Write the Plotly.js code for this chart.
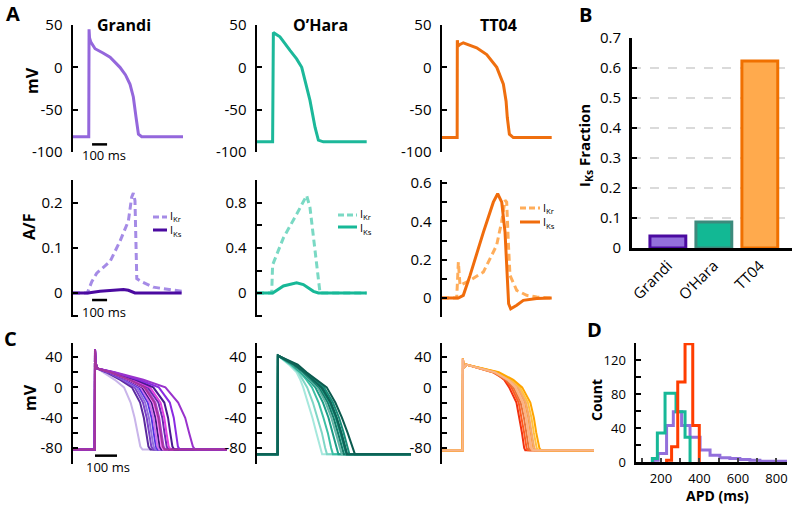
<!DOCTYPE html>
<html><head><meta charset="utf-8">
<script src="https://cdn.plot.ly/plotly-3.0.1.min.js"></script>
<style>html,body{margin:0;padding:0;background:#fff;}#plot{width:800px;height:508px;}</style>
</head><body><div id="plot"></div>
<script>
// ---------------- DATA ----------------
const models = ['Grandi', 'O\u2019Hara', 'TT04'];
const iksFraction = [0.04, 0.087, 0.623];

// Panel A top: action potentials (time ms, mV)
const apG_t = [0, 105, 107, 110, 118, 147, 200, 247, 313, 350, 380, 402, 420, 436, 458, 733];
const apG_v = [-82, -82, 45, 35, 30, 22, 17, 12, 0, -9, -20, -35, -59, -79, -82, -82];
const apO_t = [0, 104, 109, 153, 220, 264, 298, 320, 353, 387, 409, 442, 731];
const apO_v = [-88, -88, 41, 36, 20, 10, 0, -15, -39, -71, -86, -88, -88];
const apT_t = [0, 101, 102, 107, 120, 142, 231, 298, 365, 409, 427, 435, 449, 475, 731];
const apT_v = [-83, -83, 32, 25, 27, 29, 23, 15, 0, -20, -40, -59, -79, -83, -83];

// Panel A bottom: currents (A/F)
const ikrG_t = [0, 95, 125, 158, 247, 313, 369, 391, 402, 413, 425, 458, 535, 724];
const ikrG = [0, 0, 0.025, 0.044, 0.07, 0.115, 0.16, 0.213, 0.222, 0.205, 0.032, 0.025, 0.013, 0.004];
const iksG_t = [0, 100, 180, 269, 336, 369, 413, 724];
const iksG = [0, 0, 0.004, 0.006, 0.008, 0.006, 0, 0];
const ikrO_t = [0, 98, 104, 113, 176, 264, 331, 353, 420, 731];
const ikrO = [0, 0, 0.25, 0.28, 0.49, 0.70, 0.866, 0.76, 0, 0];
const iksO_t = [0, 105, 176, 264, 309, 376, 409, 731];
const iksO = [0, 0, 0.063, 0.09, 0.075, 0.015, 0, 0];
const ikrT_t = [0, 98, 109, 120, 187, 276, 364, 398, 420, 431, 442, 453, 498, 564, 631, 731];
const ikrT = [0, 0, 0.188, 0.066, 0.092, 0.136, 0.275, 0.40, 0.51, 0.50, 0.29, 0.118, 0.04, 0.014, 0.005, 0];
const iksT_t = [0, 109, 142, 187, 276, 342, 371, 398, 420, 436, 444, 458, 498, 542, 631, 731];
const iksT = [0, 0, 0.014, 0.118, 0.344, 0.50, 0.544, 0.50, 0.344, 0.118, -0.03, -0.056, -0.038, -0.012, -0.003, 0];

// Panel C: populations. Voltage levels shared, crossing times per trace.
const cG_v = [-82, -82, 50, 33, 25, 20, 10, 0, -20, -40, -60, -78, -82, -82];
const cG_head = [0, 99, 100, 102, 110];
const cG_end = 700;
const cG_times = [
  [135, 190, 232, 262, 280, 293, 306, 316],
  [150, 215, 268, 305, 322, 333, 343, 352],
  [155, 225, 280, 318, 335, 346, 356, 365],
  [160, 232, 290, 328, 345, 356, 366, 375],
  [160, 240, 300, 340, 357, 367, 377, 385],
  [165, 245, 308, 348, 365, 375, 384, 392],
  [165, 250, 315, 358, 375, 385, 394, 402],
  [170, 255, 322, 365, 383, 393, 402, 410],
  [170, 262, 330, 375, 392, 402, 412, 420],
  [175, 268, 340, 388, 406, 416, 426, 435],
  [178, 275, 350, 398, 415, 425, 435, 444],
  [180, 285, 365, 415, 432, 442, 452, 460],
  [185, 300, 390, 440, 458, 468, 477, 485],
  [190, 320, 420, 478, 510, 528, 545, 555],
  [170, 258, 325, 370, 388, 398, 408, 416]
];
const cO_v = [-88, -88, 42, 30, 20, 10, 0, -20, -40, -60, -80, -88, -88];
const cO_head = [0, 94, 95];
const cO_end = 700;
const cO_times = [
  [145, 180, 197, 210, 232, 252, 270, 287, 296],
  [150, 188, 210, 228, 254, 276, 295, 310, 318],
  [155, 195, 225, 250, 280, 302, 322, 337, 345],
  [160, 200, 235, 265, 300, 325, 345, 362, 370],
  [163, 205, 242, 275, 312, 338, 358, 376, 385],
  [165, 210, 248, 283, 322, 348, 368, 386, 395],
  [168, 213, 252, 290, 330, 357, 378, 396, 405],
  [172, 218, 258, 297, 336, 363, 384, 402, 410],
  [175, 220, 264, 305, 345, 373, 394, 412, 420],
  [185, 225, 271, 317, 356, 386, 412, 435, 445],
  [170, 215, 256, 293, 334, 361, 382, 400, 408]
];
const cT_v = [-83, -83, 38, 25, 30, 20, 10, 0, -20, -40, -60, -80, -83, -83];
const cT_head = [0, 94, 95, 98, 110];
const cT_end = 690;
const cT_times = [
  [240, 282, 305, 338, 352, 363, 373, 378],
  [230, 288, 315, 348, 362, 373, 384, 390],
  [232, 292, 324, 357, 372, 383, 394, 400],
  [238, 298, 332, 366, 381, 392, 403, 410],
  [242, 303, 339, 373, 388, 399, 411, 418],
  [246, 309, 346, 381, 396, 407, 419, 426],
  [252, 316, 354, 390, 406, 417, 430, 437],
  [258, 324, 364, 401, 417, 428, 442, 450],
  [240, 300, 336, 370, 385, 396, 408, 415]
];

// Panel D: APD histograms (bin edges in ms, counts)
const hG_edges = [160, 185, 229, 264, 307, 351, 403, 455, 506, 558, 610, 662, 714, 855];
const hG_counts = [2, 10, 43, 59, 43, 29, 14, 8, 5, 4, 3, 2, 1];
const hO_edges = [155, 181, 221, 278, 325, 351];
const hO_counts = [4, 34, 81, 59, 29];
const hT_edges = [229, 255, 287, 325, 365, 399];
const hT_counts = [2, 18, 94, 139, 43];

// ---------------- STYLE ----------------
const FONT = 'Open Sans, sans-serif';
const colG = '#9467dc', colO = '#1cb89a', colT = '#ef6f0f';
const colG_kr = '#a58be6', colG_ks = '#4b0aa0';
const colO_kr = '#7ad9c4', colO_ks = '#17b897';
const colT_kr = '#ffad5a', colT_ks = '#f06c0c';
const cG_cols = ['#c9b5ea','#5b2a9e','#7a3fc9','#9370db','#5030e0','#d070f0','#3d1580','#ff80ff','#b040d8','#6a2ab0','#e040e0','#4a1a90','#8a2be2','#9932cc','#a3369b'];
const cO_cols = ['#a6e8dd','#7fd6c6','#3cbfa4','#1c9c86','#62b5a6','#137a68','#28a58f','#0f6e5e','#178c78','#0b5a4e','#0e6357'];
const cT_cols = ['#f03010','#ff5a1f','#e8733a','#ffb07a','#ff8c00','#f5a76c','#ffc040','#ffa500','#f8b48a'];
const DASH = '7px,4px';

const W = 800, H = 508;
const PX = p => p / W, PY = p => 1 - p / H;

const layout = {
  width: W, height: H, margin: {l: 0, r: 0, t: 0, b: 0},
  paper_bgcolor: 'white', plot_bgcolor: 'rgba(0,0,0,0)', showlegend: false,
  font: {family: FONT, color: 'black', size: 15},
  annotations: [], shapes: []
};
function hidX(name, l, r, range, anchor) {
  layout[name] = {domain: [PX(l), PX(r)], range: range, anchor: anchor, visible: false, fixedrange: true};
}
function yAx(name, top, bot, range, tickvals, ticktext, anchor, size) {
  layout[name] = {domain: [PY(bot), PY(top)], range: range, anchor: anchor,
    showline: true, linecolor: 'black', linewidth: 2.5, ticks: 'inside', ticklen: 5, tickwidth: 2, tickcolor: 'black',
    tickmode: 'array', tickvals: tickvals, ticktext: ticktext, showgrid: false, zeroline: false,
    tickfont: {family: FONT, size: size || 15, color: 'black'}, ticklabelstandoff: 5, fixedrange: true};
}
// A top
const apTicks = [-100, -50, 0, 50], apText = ['-100', '-50', '0', '50'];
hidX('xaxis', 73, 183, [0, 733], 'y');  yAx('yaxis', 25, 152, [-100, 50], apTicks, apText, 'x');
hidX('xaxis2', 257, 367, [0, 733], 'y2'); yAx('yaxis2', 25, 152, [-100, 50], apTicks, apText, 'x2');
hidX('xaxis3', 442, 552, [0, 733], 'y3'); yAx('yaxis3', 25, 152, [-100, 50], apTicks, apText, 'x3');
// A bottom
hidX('xaxis4', 73, 183, [0, 733], 'y4');
yAx('yaxis4', 180, 317, [-0.0533, 0.2511], [-0.05, 0, 0.1, 0.2, 0.25], ['', '0', '0.1', '0.2', ''], 'x4');
hidX('xaxis5', 257, 367, [0, 733], 'y5');
yAx('yaxis5', 180, 317, [-0.213, 1.004], [-0.2, 0, 0.2, 0.4, 0.6, 0.8, 1.0], ['', '0', '', '0.4', '', '0.8', ''], 'x5');
hidX('xaxis6', 442, 552, [0, 733], 'y6');
yAx('yaxis6', 180, 317, [-0.099, 0.6157], [-0.1, 0, 0.1, 0.2, 0.3, 0.4, 0.5, 0.6], ['', '0', '', '0.2', '', '0.4', '', '0.6'], 'x6');
// B
layout.xaxis7 = {domain: [PX(632), PX(792)], range: [-0.78, 2.7], anchor: 'y7', type: 'category',
  showline: true, linecolor: 'black', linewidth: 3, ticks: '', tickangle: -45,
  tickfont: {family: FONT, size: 15, color: 'black'}, showgrid: false, zeroline: false, fixedrange: true};
yAx('yaxis7', 38, 248, [0, 0.7], [0, 0.1, 0.2, 0.3, 0.4, 0.5, 0.6, 0.7], ['0', '0.1', '0.2', '0.3', '0.4', '0.5', '0.6', '0.7'], 'x7', 15);
Object.assign(layout.yaxis7, {linewidth: 3, showgrid: true, gridcolor: '#dadada', gridwidth: 1.5, griddash: 'dash'});
// C
const cTicks = [-100, -80, -60, -40, -20, 0, 20, 40], cText = ['', '-80', '', '-40', '', '0', '', '40'];
hidX('xaxis8', 73, 227, [0, 700], 'y8');  yAx('yaxis8', 343, 464, [-101, 58.5], cTicks, cText, 'x8');
hidX('xaxis9', 257, 411, [0, 700], 'y9');  yAx('yaxis9', 343, 464, [-101, 58.5], cTicks, cText, 'x9');
hidX('xaxis10', 442, 594, [0, 690], 'y10'); yAx('yaxis10', 343, 464, [-101, 58.5], cTicks, cText, 'x10');
// D
layout.xaxis11 = {domain: [PX(636), PX(787)], range: [70, 855], anchor: 'y11',
  showline: true, linecolor: 'black', linewidth: 2.5, ticks: 'inside', ticklen: 4, tickwidth: 2,
  tickmode: 'array', tickvals: [100, 200, 300, 400, 500, 600, 700, 800], ticktext: ['', '200', '', '400', '', '600', '', '800'],
  tickfont: {family: FONT, size: 13, color: 'black'}, ticklabelstandoff: 3, showgrid: false, zeroline: false, fixedrange: true};
yAx('yaxis11', 343, 462, [0, 140], [0, 20, 40, 60, 80, 100, 120, 140], ['0', '', '40', '', '80', '', '120', ''], 'x11', 13);

// ---------------- TRACES ----------------
const traces = [];
function line(x, y, xa, ya, color, width, dash) {
  traces.push({type: 'scatter', mode: 'lines', x: x, y: y, xaxis: xa, yaxis: ya,
    line: {color: color, width: width, dash: dash || 'solid'}, hoverinfo: 'skip', cliponaxis: false});
}
line(apG_t, apG_v, 'x', 'y', colG, 3);
line(apO_t, apO_v, 'x2', 'y2', colO, 3);
line(apT_t, apT_v, 'x3', 'y3', colT, 3);

line(ikrG_t, ikrG, 'x4', 'y4', colG_kr, 3, DASH);
line(iksG_t, iksG, 'x4', 'y4', colG_ks, 3);
line(ikrO_t, ikrO, 'x5', 'y5', colO_kr, 3, DASH);
line(iksO_t, iksO, 'x5', 'y5', colO_ks, 3);
line(ikrT_t, ikrT, 'x6', 'y6', colT_kr, 3, DASH);
line(iksT_t, iksT, 'x6', 'y6', colT_ks, 3);

traces.push({type: 'bar', x: models, y: iksFraction, xaxis: 'x7', yaxis: 'y7', width: 0.78,
  marker: {color: ['#9370db', '#12b894', '#ffaa4d'], line: {color: ['#4b0aa0', '#3d8a7c', '#f07000'], width: 3}},
  hoverinfo: 'skip'});

cG_times.forEach((tt, i) => line(cG_head.concat(tt, [cG_end]), cG_v, 'x8', 'y8', cG_cols[i], 2));
cO_times.forEach((tt, i) => line(cO_head.concat(tt, [cO_end]), cO_v, 'x9', 'y9', cO_cols[i], 2));
cT_times.forEach((tt, i) => line(cT_head.concat(tt, [cT_end]), cT_v, 'x10', 'y10', cT_cols[i], 2));

function hist(edges, counts, color) {
  const x = [edges[0]].concat(edges);
  const y = [0].concat(counts, [0]);
  traces.push({type: 'scatter', mode: 'lines', x: x, y: y, xaxis: 'x11', yaxis: 'y11',
    line: {color: color, width: 3, shape: 'hv'}, hoverinfo: 'skip', cliponaxis: false});
}
hist(hG_edges, hG_counts, '#9370db');
hist(hO_edges, hO_counts, '#17b897');
hist(hT_edges, hT_counts, '#ff3d00');

// ---------------- TEXT & MARKS ----------------
function ann(text, x, y, o) {
  o = o || {};
  layout.annotations.push(Object.assign({text: text, x: PX(x), y: PY(y), xref: 'paper', yref: 'paper',
    showarrow: false, xanchor: 'center', yanchor: 'middle', borderpad: 0,
    font: {family: FONT, size: 15, color: 'black'}}, o));
}
const bold = sz => ({font: {family: FONT, size: sz, color: 'black', weight: 'bold'}});
ann('<b>A</b>', 13, 14, bold(20));
ann('<b>B</b>', 585, 15, bold(20));
ann('<b>C</b>', 10, 338, bold(20));
ann('<b>D</b>', 594, 329, bold(20));
ann('<b>Grandi</b>', 124, 25, bold(16));
ann('<b>O\u2019Hara</b>', 320, 25, bold(16));
ann('<b>TT04</b>', 498, 25, bold(16));
ann('<b>mV</b>', 32, 81, Object.assign(bold(16), {textangle: -90}));
ann('<b>A/F</b>', 29, 227, Object.assign(bold(16), {textangle: -90}));
ann('<b>mV</b>', 30, 398, Object.assign(bold(16), {textangle: -90}));
ann('<b>I<sub>Ks</sub> Fraction</b>', 585, 146, Object.assign(bold(15), {textangle: -90}));
ann('<b>Count</b>', 596, 400, Object.assign(bold(14), {textangle: -90}));
ann('<b>APD (ms)</b>', 717, 495, bold(14));
ann('100 ms', 104, 155, {font: {family: FONT, size: 13, color: 'black'}});
ann('100 ms', 104, 312, {font: {family: FONT, size: 13, color: 'black'}});
ann('100 ms', 108, 467, {font: {family: FONT, size: 13, color: 'black'}});
// legend labels (one block per panel)
const legFont = {font: {family: FONT, size: 11, color: 'black'}, xanchor: 'left', align: 'left'};
ann('I<sub>Kr</sub><br>I<sub>Ks</sub>', 169, 223, legFont);
ann('I<sub>Kr</sub><br>I<sub>Ks</sub>', 359, 221, legFont);
ann('I<sub>Kr</sub><br>I<sub>Ks</sub>', 542, 215, legFont);

function pline(x0, x1, y, color, dash) {
  layout.shapes.push({type: 'line', xref: 'paper', yref: 'paper', x0: PX(x0), x1: PX(x1), y0: PY(y), y1: PY(y),
    line: {color: color, width: 3, dash: dash || 'solid'}});
}
pline(153, 167, 217, colG_kr, '6px,3px'); pline(153, 167, 230, colG_ks);
pline(338, 357, 215, colO_kr, '6px,3px'); pline(338, 357, 227, colO_ks);
pline(520, 540, 208, colT_kr, '6px,3px'); pline(520, 540, 222, colT_ks);
// scale bars (100 ms in axis units)
layout.shapes.push({type: 'line', xref: 'x', yref: 'y', x0: 127, x1: 227, y0: -91, y1: -91, line: {color: 'black', width: 2.5}});
layout.shapes.push({type: 'line', xref: 'x4', yref: 'y4', x0: 127, x1: 227, y0: -0.0156, y1: -0.0156, line: {color: 'black', width: 2.5}});
layout.shapes.push({type: 'line', xref: 'x8', yref: 'y8', x0: 100, x1: 200, y0: -90, y1: -90, line: {color: 'black', width: 2.5}});

Plotly.newPlot('plot', traces, layout, {displayModeBar: false, staticPlot: true});
</script></body></html>
